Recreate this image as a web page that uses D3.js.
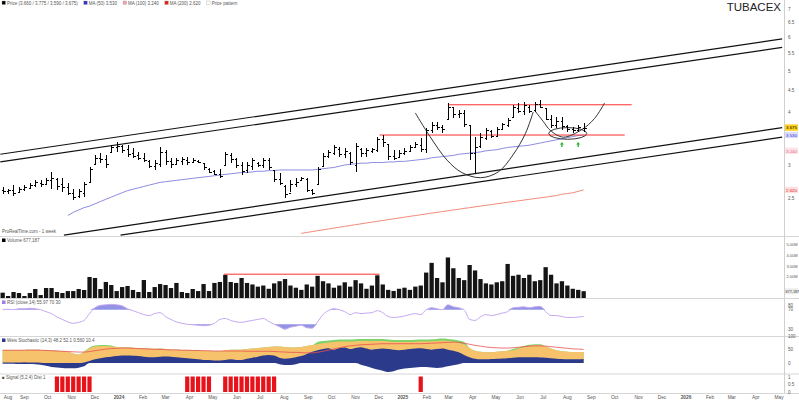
<!DOCTYPE html>
<html><head><meta charset="utf-8">
<script src="https://cdn.jsdelivr.net/npm/d3@7"></script>
<style>body{margin:0;background:#fff}svg{display:block;font-family:"Liberation Sans",Arial,sans-serif}</style>
</head><body><svg id="c" width="799" height="403"></svg>
<script>
// ---- weekly OHLC, TUBACEX ----
const firstWeek = "2023-08-04";
const open  = [2.62,2.60,2.62,2.59,2.63,2.65,2.69,2.72,2.70,2.76,2.78,2.70,2.66,2.58,2.53,2.58,2.74,3.02,3.12,3.10,3.22,3.30,3.32,3.28,3.20,3.16,3.12,3.06,2.98,3.02,3.22,3.06,3.02,3.06,3.08,3.05,3.07,3.03,2.94,2.90,2.86,3.00,3.16,3.10,3.00,2.92,2.98,3.04,3.00,3.08,2.92,2.78,2.68,2.58,2.70,2.77,2.78,2.62,2.70,2.98,3.15,3.20,3.28,3.18,3.20,3.00,3.28,3.20,3.24,3.26,3.45,3.36,3.15,3.14,3.20,3.24,3.30,3.35,3.28,3.62,3.72,3.68,3.85,4.10,3.95,3.98,3.72,3.20,3.32,3.48,3.60,3.52,3.65,3.72,3.90,4.08,4.02,4.12,4.04,4.18,4.08,3.86,3.72,3.80,3.70,3.64,3.62,3.66];
const high  = [2.66,2.64,2.69,2.66,2.69,2.72,2.76,2.76,2.79,2.89,2.79,2.79,2.72,2.64,2.64,2.73,2.97,3.17,3.20,3.17,3.34,3.40,3.34,3.34,3.29,3.22,3.20,3.08,3.08,3.31,3.25,3.12,3.12,3.13,3.13,3.12,3.08,3.03,2.95,2.92,2.93,3.22,3.20,3.12,3.05,3.05,3.12,3.05,3.12,3.12,2.92,2.87,2.69,2.76,2.79,2.81,2.79,2.64,2.97,3.20,3.25,3.34,3.31,3.29,3.22,3.38,3.29,3.29,3.29,3.49,3.53,3.36,3.25,3.25,3.29,3.34,3.40,3.47,3.675,3.79,3.79,3.73,4.20,4.11,4.04,4.04,3.73,3.49,3.57,3.675,3.63,3.69,3.77,3.87,4.155,4.20,4.22,4.155,4.22,4.27,4.09,3.935,3.89,3.89,3.73,3.69,3.73,3.77];
const low   = [2.57,2.57,2.53,2.59,2.60,2.63,2.66,2.66,2.69,2.64,2.62,2.59,2.55,2.48,2.51,2.52,2.72,3.00,3.03,2.95,3.20,3.22,3.20,3.13,3.12,3.08,3.05,2.95,2.92,2.97,3.00,2.95,3.00,3.00,3.00,3.03,3.03,2.92,2.87,2.84,2.79,3.00,3.03,2.95,2.84,2.87,2.92,2.97,2.95,2.92,2.73,2.69,2.51,2.59,2.66,2.76,2.59,2.55,2.69,2.97,3.12,3.17,3.13,3.12,3.00,2.89,3.13,3.13,3.20,3.22,3.31,3.08,3.08,3.13,3.17,3.22,3.29,3.22,3.20,3.57,3.63,3.57,3.83,3.87,3.87,3.69,3.08,2.87,3.29,3.435,3.47,3.49,3.63,3.69,3.89,3.98,3.935,3.98,4.00,4.09,3.83,3.675,3.675,3.63,3.59,3.57,3.59,3.59];
const close = [2.60,2.62,2.58,2.63,2.66,2.69,2.73,2.70,2.76,2.80,2.68,2.66,2.58,2.52,2.60,2.70,2.93,3.12,3.10,3.02,3.30,3.33,3.25,3.18,3.15,3.12,3.08,2.98,3.04,3.22,3.06,3.02,3.08,3.10,3.05,3.09,3.05,2.96,2.89,2.86,2.82,3.18,3.10,3.00,2.90,3.00,3.08,3.00,3.08,2.96,2.78,2.72,2.56,2.70,2.74,2.79,2.62,2.58,2.94,3.15,3.22,3.30,3.18,3.24,3.05,3.32,3.20,3.26,3.27,3.45,3.40,3.15,3.12,3.20,3.24,3.30,3.36,3.28,3.62,3.72,3.68,3.65,4.12,3.95,3.98,3.75,3.20,3.30,3.50,3.62,3.52,3.65,3.74,3.84,4.10,4.02,4.15,4.02,4.18,4.12,3.86,3.72,3.80,3.70,3.64,3.62,3.68,3.675];
// volume, millions of shares
const volume = [0.54,0.23,0.60,0.51,0.23,0.51,0.88,0.32,0.97,0.97,0.60,0.51,0.69,0.69,0.88,0.79,1.99,1.90,0.88,1.53,1.25,0.69,1.06,1.16,0.79,0.60,1.71,0.60,1.06,1.34,1.25,0.97,1.44,0.60,0.51,0.88,0.69,1.34,0.69,1.44,1.53,2.18,1.53,1.44,1.90,1.44,1.30,1.10,1.20,0.90,1.40,1.60,1.80,1.20,1.00,0.80,1.30,1.10,2.10,1.60,1.40,1.00,1.20,1.50,1.10,1.70,1.40,0.90,1.20,2.15,1.30,0.80,0.70,0.90,1.00,0.80,1.10,1.20,2.40,3.30,1.90,1.50,3.80,2.80,1.90,1.70,3.10,2.60,1.80,1.40,1.30,1.50,1.60,3.20,2.10,2.20,1.90,2.20,1.60,1.70,2.90,2.20,1.40,1.60,1.20,0.90,0.80,0.677];
// moving averages (first defined week given by *Start)
const maBlueStart = 12;
const maBlue = [2.28,2.32,2.35,2.38,2.40,2.43,2.46,2.49,2.52,2.55,2.58,2.61,2.63,2.65,2.67,2.69,2.71,2.73,2.74,2.75,2.76,2.77,2.78,2.79,2.80,2.81,2.82,2.83,2.84,2.85,2.86,2.87,2.88,2.88,2.89,2.90,2.90,2.91,2.91,2.92,2.92,2.92,2.92,2.92,2.92,2.92,2.93,2.94,2.95,2.96,2.98,3.00,3.01,3.02,3.03,3.03,3.04,3.04,3.04,3.05,3.05,3.06,3.06,3.07,3.08,3.09,3.10,3.12,3.13,3.14,3.15,3.16,3.18,3.19,3.20,3.21,3.22,3.24,3.25,3.26,3.28,3.30,3.31,3.32,3.33,3.34,3.36,3.38,3.40,3.42,3.44,3.46,3.48,3.50,3.52,3.53];
const maRedStart = 55;
const maRed = [2.07,2.08,2.09,2.10,2.11,2.12,2.13,2.14,2.15,2.16,2.17,2.18,2.19,2.20,2.21,2.22,2.23,2.24,2.25,2.26,2.27,2.28,2.29,2.30,2.31,2.32,2.33,2.34,2.35,2.36,2.37,2.38,2.39,2.40,2.41,2.42,2.43,2.44,2.45,2.46,2.47,2.48,2.49,2.50,2.51,2.52,2.53,2.54,2.56,2.57,2.58,2.60,2.62];
// RSI
const rsi = [70,71,70,72,72,73,72,70,66,62,55,50,45,42,44,48,62,74,79,80,81,80,78,72,68,64,60,58,62,64,56,50,45,42,40,39,38,37,38,42,50,52,48,45,44,46,48,50,52,46,40,35,30,34,36,38,33,32,45,60,68,72,70,66,60,64,62,63,64,68,64,56,54,55,57,60,62,60,70,74,72,70,80,76,74,70,50,48,55,60,58,60,63,66,74,75,76,74,76,77,66,58,58,56,54,54,55,56];
// oscillator panel: envelope (orange), its leading edge (green), momentum band (navy: upper/lower edge), signal (red)
const oscTop   = [48,48,49,48,49,50,50,49,48,47,46,44,42,36,32,40,55,62,64,64,62,60,58,58,57,56,55,54,53,54,52,50,50,49,48,48,47,46,45,44,44,48,50,50,50,52,54,56,58,60,62,62,60,58,58,60,64,66,70,74,76,78,80,80,80,81,82,82,82,82,82,80,78,78,78,78,79,80,80,81,82,83,82,80,76,70,56,46,42,40,40,42,44,46,48,54,60,64,66,66,62,54,48,44,42,41,41,41];
const oscGreen = [48,48,49,48,49,50,50,49,48,47,46,44,42,36,32,43,58,65,67,67,65,60,58,58,57,56,55,54,53,54,52,50,50,49,48,48,47,46,45,44,44,48,50,50,50,52,54,56,58,60,62,62,60,58,58,60,64,66,78,82,84,86,88,88,88,89,90,90,90,90,90,88,86,86,86,86,87,88,88,89,90,91,90,88,84,78,56,46,42,40,40,42,44,46,52,58,64,68,70,70,62,54,48,44,42,41,41,41];
const oscNavyHigh = [2,2,2,2,3,2,2,1,0,0,0,0,0,0,0,2,8,14,18,22,24,26,28,28,27,26,24,22,22,24,25,24,22,20,18,16,14,12,12,10,10,12,14,12,12,16,20,24,28,30,28,20,16,18,22,26,34,42,48,52,55,50,56,58,52,56,59,54,50,52,54,52,50,48,50,52,54,55,52,50,52,54,50,46,40,30,22,16,14,14,15,16,17,18,20,22,22,22,22,21,20,18,16,15,14,14,14,15];
const oscNavyLow  = [-2,-2,-2,-3,-3,-3,-4,-6,-10,-14,-16,-18,-19,-19,-17,-12,0,0,0,0,0,0,0,0,0,0,0,0,0,0,0,0,0,0,0,0,0,0,0,0,0,0,0,0,0,0,0,0,0,0,0,-4,-7,-7,-4,0,0,0,0,0,0,0,0,0,0,0,-6,-12,-18,-24,-28,-33,-30,-24,-20,-18,-16,-14,-14,-16,-18,-16,-12,-8,-4,0,0,0,0,0,0,0,0,0,0,0,0,0,0,0,0,0,0,0,0,0,0,0];
const oscSignal= [48,48,48,48,48,48,48,48,47,46,45,44,43,42,41,41,43,46,49,52,54,55,56,56,55,54,53,52,51,51,50,49,49,48,48,47,47,46,46,45,45,45,45,45,45,44,44,44,44,44,43,42,41,40,40,39,38,38,40,44,48,53,57,61,64,66,68,69,70,71,72,72,72,72,72,72,72,72,73,74,75,76,77,78,77,74,70,66,63,60,58,57,56,56,57,59,61,63,64,64,63,61,59,57,55,53,52,51];
// buy-signal weeks
const signalWeeks = [10,11,12,13,14,15,16,34,35,36,37,38,41,42,43,44,45,46,47,48,49,50,77];

// month labels along the time axis
const tickLabels = ["Aug","Sep","Oct","Nov","Dec","2024","Feb","Mar","Apr","May","Jun","Jul","Aug","Sep","Oct","Nov","Dec","2025","Feb","Mar","Apr","May","Jun","Jul","Aug","Sep","Oct","Nov","Dec","2026","Feb","Mar","Apr","May"];
const priceTicks = [7,6.5,6,5.5,5,4.5,4,3,2.5];
const volumeTicks = [5,4,3,2];

// chart-pattern annotations: [date, price]
const channelLines = [
  [["2023-08-01",3.18],["2026-05-05",5.95]],
  [["2023-08-01",3.05],["2026-05-05",5.68]],
  [["2023-10-22",2.05],["2026-05-05",3.675]],
  [["2024-01-03",2.05],["2026-05-05",3.49]]
];
const levelLines = [
  [["2025-02-28",4.16],["2025-10-23",4.16]],
  [["2024-12-02",3.53],["2025-10-14",3.53]]
];
const cupCurve = [["2025-01-17",3.98],["2025-02-05",3.50],["2025-02-27",3.08],["2025-03-18",2.88],["2025-04-11",2.80],["2025-05-04",2.89],["2025-05-23",3.17],["2025-06-08",3.56],["2025-06-18",4.00]];
const handleCurve = [["2025-06-20",4.03],["2025-07-01",3.80],["2025-07-10",3.62],["2025-07-27",3.49],["2025-08-20",3.64],["2025-09-05",3.86],["2025-09-18",4.20]];
const handleRing = {from:"2025-07-08", to:"2025-08-26", top:3.675, bottom:3.45};
const upArrows = ["2025-07-25","2025-08-15"];
const volumeLevel = [["2024-05-15",2.25],["2024-12-02",2.25]];

// ---------------- layout ----------------
const svg = d3.select("#c");
const axisX = 784;
const P = {price:[0,236], vol:[236,298], rsi:[298,336], osc:[336,373.5], sig:[373.5,393]};
const parse = d3.timeParse("%Y-%m-%d");
const weeks = d3.range(open.length).map(i => d3.timeWeek.offset(parse(firstWeek), i));

const x = d3.scaleTime().domain([new Date(2023,7,1), new Date(2026,0,1)]).range([0.3, 686]);
const y = d3.scaleLog().domain([4,3]).range([112,165]);
const yv = d3.scaleLinear().domain([0,5]).range([298.5,244.5]);
const yr = d3.scaleLinear().domain([20,90]).range([334,300]);
const yo = d3.scaleLinear().domain([-33,97]).range([372,337]);

const defs = svg.append("defs");
Object.entries(P).forEach(([k,[a,b]]) => {
  defs.append("clipPath").attr("id","clip-"+k).append("rect").attr("x",0).attr("y",a).attr("width",axisX).attr("height",b-a);
});

// separators and right axis
svg.append("g").selectAll("line").data([236,298,336,373.5,393]).join("line")
  .attr("x1",0).attr("x2",799).attr("y1",d=>d+0.5).attr("y2",d=>d+0.5).attr("stroke","#d6d6d6");
svg.append("line").attr("x1",axisX+0.5).attr("x2",axisX+0.5).attr("y1",0).attr("y2",393).attr("stroke","#d0d0d0");

// ---------------- price panel ----------------
const gp = svg.append("g").attr("clip-path","url(#clip-price)");
const pt = d => [x(parse(d[0])), y(d[1])];

gp.append("g").selectAll("line").data(channelLines).join("line")
  .attr("x1",d=>pt(d[0])[0]).attr("y1",d=>pt(d[0])[1]).attr("x2",d=>pt(d[1])[0]).attr("y2",d=>pt(d[1])[1])
  .attr("stroke","#111").attr("stroke-width",1.2);

const lineOf = start => d3.line().x((d,i)=>x(weeks[i+start])).y(d=>y(d));
gp.append("path").attr("d",lineOf(maRedStart)(maRed)).attr("fill","none").attr("stroke","#f28a7a").attr("stroke-width",1);
gp.append("path").attr("d",lineOf(maBlueStart)(maBlue)).attr("fill","none").attr("stroke","#8c8ce0").attr("stroke-width",1);

gp.append("g").selectAll("line").data(levelLines).join("line")
  .attr("x1",d=>pt(d[0])[0]).attr("y1",d=>pt(d[0])[1]).attr("x2",d=>pt(d[1])[0]).attr("y2",d=>pt(d[1])[1])
  .attr("stroke","#ff3030").attr("stroke-width",1);

const curve = d3.line().x(d=>pt(d)[0]).y(d=>pt(d)[1]).curve(d3.curveCatmullRom);
[cupCurve, handleCurve].forEach(c => gp.append("path").attr("d",curve(c)).attr("fill","none").attr("stroke","#333").attr("stroke-width",1));
{
  const x0 = x(parse(handleRing.from)), x1 = x(parse(handleRing.to));
  const y0 = y(handleRing.top), y1 = y(handleRing.bottom);
  gp.append("ellipse").attr("cx",(x0+x1)/2).attr("cy",(y0+y1)/2).attr("rx",(x1-x0)/2).attr("ry",(y1-y0)/2)
    .attr("fill","none").attr("stroke","#333").attr("stroke-width",1);
}
gp.append("g").selectAll("path").data(upArrows).join("path")
  .attr("d",d=>{const cx=x(parse(d)), t=y(3.40); return `M${cx},${t} l-2,2.5 h1.3 v2.5 h1.4 v-2.5 h1.3 z`;})
  .attr("fill","#2fb52f");

// OHLC bars
const gb = gp.append("g").attr("stroke","#000").attr("stroke-width",1).attr("shape-rendering","crispEdges");
weeks.forEach((w,i) => {
  const cx = Math.round(x(w))+0.5;
  gb.append("line").attr("x1",cx).attr("x2",cx).attr("y1",y(high[i])).attr("y2",y(low[i]));
  gb.append("line").attr("x1",cx-2).attr("x2",cx).attr("y1",Math.round(y(open[i]))+0.5).attr("y2",Math.round(y(open[i]))+0.5);
  gb.append("line").attr("x1",cx).attr("x2",cx+2).attr("y1",Math.round(y(close[i]))+0.5).attr("y2",Math.round(y(close[i]))+0.5);
});

// title and legend
svg.append("text").attr("x",781).attr("y",11).attr("text-anchor","end").attr("font-size",11.5).attr("fill","#222").text("TUBACEX");
const legend = [["#000","Price (3.660 / 3.775 / 3.590 / 3.675)"],["#3333cc","MA (50) 3.530"],["#f2a0b0","MA (100) 3.240"],["#e02020","MA (200) 2.620"],["#fff","Price pattern"]];
{
  let lx = 2;
  const g = svg.append("g").attr("font-size",4.5).attr("fill","#555");
  legend.forEach(([c,t]) => {
    g.append("rect").attr("x",lx).attr("y",1).attr("width",3.5).attr("height",3.5).attr("fill",c).attr("stroke","#999").attr("stroke-width",0.3);
    const tx = g.append("text").attr("x",lx+5).attr("y",4.5).text(t);
    lx += 5 + tx.node().getComputedTextLength() + 6;
  });
}
svg.append("text").attr("x",2).attr("y",233).attr("font-size",4.5).attr("fill","#555").text("ProRealTime.com - 1 week");

// price axis
const ga = svg.append("g").attr("font-size",4.6).attr("fill","#555");
priceTicks.forEach(v => ga.append("text").attr("x",axisX+4).attr("y",y(v)+1.7).text(v));
const tags = [[3.675,"#ffd21f","#000","3.675"],[3.53,"#dcdcff","#3333cc","3.530"],[3.24,"#ffe0e6","#e07090","3.240"],[2.62,"#ffe0e0","#e02020","2.620"]];
tags.forEach(([v,bg,fg,t]) => {
  const yy = y(v);
  svg.append("rect").attr("x",axisX+1).attr("y",yy-3.2).attr("width",13).attr("height",6.4).attr("fill",bg);
  svg.append("text").attr("x",axisX+2).attr("y",yy+1.7).attr("font-size",4.4).attr("fill",fg).text(t);
});

// ---------------- volume panel ----------------
const gvp = svg.append("g").attr("clip-path","url(#clip-vol)");
gvp.append("g").selectAll("rect").data(volume).join("rect")
  .attr("x",(d,i)=>x(weeks[i])-2.1).attr("width",4.3)
  .attr("y",d=>yv(d)).attr("height",d=>yv(0)-yv(d)).attr("fill","#141414");
gvp.append("line").attr("x1",x(parse(volumeLevel[0][0]))).attr("x2",x(parse(volumeLevel[1][0])))
  .attr("y1",yv(volumeLevel[0][1])).attr("y2",yv(volumeLevel[1][1])).attr("stroke","#ff3030").attr("stroke-width",1);
svg.append("rect").attr("x",2).attr("y",238.5).attr("width",3.5).attr("height",3.5).attr("fill","#000");
svg.append("text").attr("x",7).attr("y",242).attr("font-size",4.5).attr("fill","#555").text("Volume 677,187");
const gva = svg.append("g").attr("font-size",4).attr("fill","#555");
volumeTicks.forEach(v => gva.append("text").attr("x",axisX+2.5).attr("y",yv(v)+1.5).text(v.toFixed(2)+"M"));
svg.append("rect").attr("x",axisX+1).attr("y",yv(0.677)-3).attr("width",13.5).attr("height",6).attr("fill","#eee");
svg.append("text").attr("x",axisX+1.5).attr("y",yv(0.677)+1.5).attr("font-size",3.8).attr("fill","#333").text("677,187");

// ---------------- RSI panel ----------------
const grp = svg.append("g").attr("clip-path","url(#clip-rsi)");
const rx = (d,i)=>x(weeks[i]);
grp.append("path").attr("d",d3.area().x(rx).y0(yr(70)).y1(d=>yr(Math.max(d,70))).curve(d3.curveMonotoneX)(rsi)).attr("fill","#8080e0").attr("opacity",0.85);
grp.append("path").attr("d",d3.area().x(rx).y0(yr(40)).y1(d=>yr(Math.min(d,40))).curve(d3.curveMonotoneX)(rsi)).attr("fill","#8080e0").attr("opacity",0.85);
grp.append("path").attr("d",d3.line().x(rx).y(d=>yr(d)).curve(d3.curveMonotoneX)(rsi)).attr("fill","none").attr("stroke","#c6a8f2").attr("stroke-width",1);
svg.append("rect").attr("x",2).attr("y",300.5).attr("width",3.5).attr("height",3.5).attr("fill","#9a7fe6");
svg.append("text").attr("x",7).attr("y",304).attr("font-size",4.5).attr("fill","#555").text("RSI (close,14) 55.97  70  30");
[80,70,30].forEach(v => ga.append("text").attr("x",axisX+4).attr("y",yr(v)+1.7).text(v));

// ---------------- oscillator panel ----------------
const gop = svg.append("g").attr("clip-path","url(#clip-osc)");
const ax = (d,i)=>x(weeks[i]);
const band = (hi, lo) => d3.area().x(ax).y0((d,i)=>yo(lo[i])).y1((d,i)=>yo(hi[i])).curve(d3.curveMonotoneX)(hi);
const zeros = oscTop.map(() => 0);
gop.append("path").attr("d",band(oscGreen, zeros)).attr("fill","#7fd36a");
gop.append("path").attr("d",band(oscTop, zeros)).attr("fill","#f6c36c");
gop.append("path").attr("d",band(oscNavyHigh, oscNavyLow)).attr("fill","#2c3a8c");
gop.append("path").attr("d",d3.line().x(ax).y(d=>yo(d)).curve(d3.curveMonotoneX)(oscSignal)).attr("fill","none").attr("stroke","#e85050").attr("stroke-width",0.8);
svg.append("rect").attr("x",2).attr("y",338.5).attr("width",3.5).attr("height",3.5).attr("fill","#2c3a8c");
svg.append("text").attr("x",7).attr("y",342).attr("font-size",4.5).attr("fill","#555").text("Weis Stochastic (14,3)  48.2  52.1  0.560  10.4");
[100,50,0].forEach(v => ga.append("text").attr("x",axisX+4).attr("y",yo(v)+1.7).text(v));

// ---------------- signal panel ----------------
const gsp = svg.append("g").attr("clip-path","url(#clip-sig)");
gsp.append("g").selectAll("rect").data(signalWeeks).join("rect")
  .attr("x",i=>x(weeks[i])-2.1).attr("width",4.2).attr("y",376.5).attr("height",15.5).attr("fill","#e8121a");
svg.append("text").attr("x",2).attr("y",379).attr("font-size",4.5).attr("fill","#555").text("■ Signal (5,2,4) Dist 1");
[[1,377],[0.5,384.5],[0,392]].forEach(([v,yy]) => ga.append("text").attr("x",axisX+4).attr("y",yy+1.7).text(v));

// ---------------- time axis ----------------
const months = d3.timeMonth.range(new Date(2023,7,1), new Date(2026,5,1));
svg.append("g").attr("font-size",4.8).attr("fill","#555").attr("text-anchor","middle")
  .selectAll("text").data(months).join("text")
  .attr("x",d=>Math.max(8, x(d))).attr("y",399)
  .attr("font-weight",(d,i)=>/^\d{4}$/.test(tickLabels[i])?"bold":null)
  .text((d,i)=>tickLabels[i]);
</script></body></html>
